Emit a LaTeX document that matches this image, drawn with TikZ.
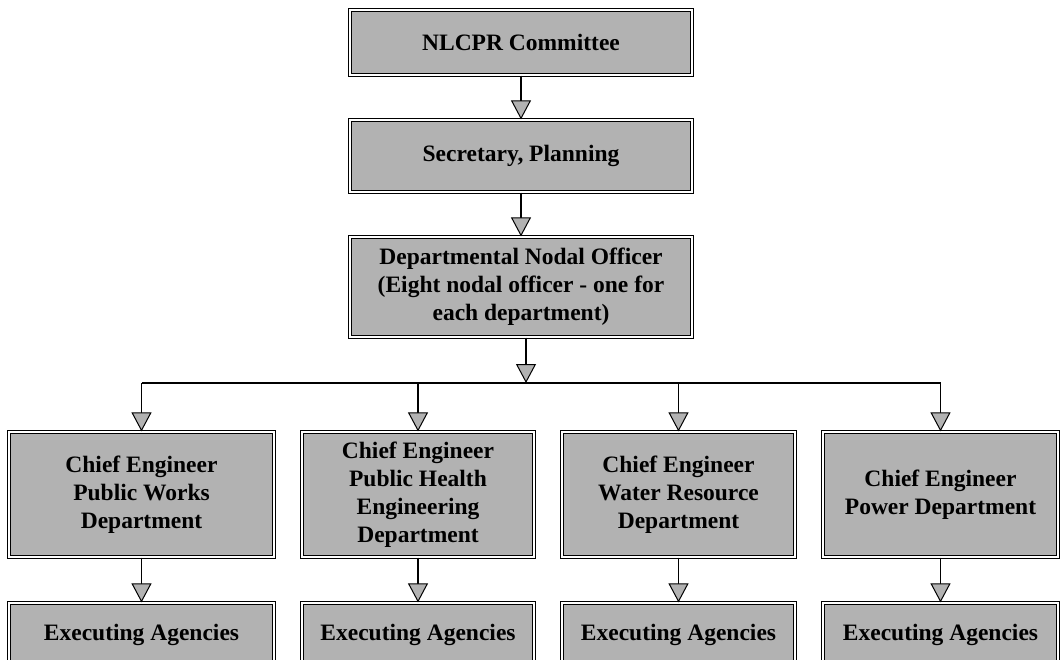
\documentclass[tikz,border=0pt]{standalone}
\usepackage{fontspec}
\setmainfont{Liberation Serif}
\usetikzlibrary{arrows.meta}

\begin{document}
\begin{tikzpicture}[x=1pt,y=-1pt,
    box/.style={draw=black, line width=1.2pt, double=white, double distance=1.3pt,
      fill=black!30, align=center, inner sep=2pt,
      font=\fontsize{23.5}{28}\selectfont\bfseries},
    flow/.style={line width=1.6pt,
      -{Triangle[fill=black!30, length=19pt, width=20pt, line width=1pt]}}]
  \useasboundingbox (0,0) rectangle (1060,659);
  % top of the chain
  \node[box, minimum width=342pt, minimum height=65pt] (nlcpr) at (521,42.5) {NLCPR Committee};
  \node[box, minimum width=342pt, minimum height=72pt] (secy) at (521,156) {Secretary, Planning};
  \node[box, minimum width=342pt, minimum height=100pt] (dno) at (521,287)
    {Departmental Nodal Officer\\(Eight nodal officer - one for\\each department)};
  % chief engineers
  \node[box, minimum width=265pt, minimum height=125pt] (ce1) at (141.5,494.5)
    {Chief Engineer\\Public Works\\Department};
  \node[box, minimum width=232pt, minimum height=125pt] (ce2) at (418,494.5)
    {Chief Engineer\\Public Health\\Engineering\\Department};
  \node[box, minimum width=233pt, minimum height=125pt] (ce3) at (678.5,494.5)
    {Chief Engineer\\Water Resource\\Department};
  \node[box, minimum width=235pt, minimum height=125pt] (ce4) at (940.5,494.5)
    {Chief Engineer\\Power Department};
  % executing agencies
  \node[box, minimum width=265pt, minimum height=76pt, text depth=18pt] (ea1) at (141.5,641) {Executing Agencies};
  \node[box, minimum width=232pt, minimum height=76pt, text depth=18pt] (ea2) at (418,641) {Executing Agencies};
  \node[box, minimum width=233pt, minimum height=76pt, text depth=18pt] (ea3) at (678.5,641) {Executing Agencies};
  \node[box, minimum width=235pt, minimum height=76pt, text depth=18pt] (ea4) at (940.5,641) {Executing Agencies};
  % bus line
  \coordinate (bus) at (526,383);
  \coordinate (b1) at (ce1 |- bus);
  \coordinate (b2) at (ce2 |- bus);
  \coordinate (b3) at (ce3 |- bus);
  \coordinate (b4) at (ce4 |- bus);
  \begin{scope}[flow]
    \draw (nlcpr) -- (secy);
    \draw (secy) -- (dno);
    \draw (dno.south -| bus) -- (bus);
    \draw (b1) -- (ce1);
    \draw (b2) -- (ce2);
    \draw (b3) -- (ce3);
    \draw (b4) -- (ce4);
    \draw (ce1) -- (ea1);
    \draw (ce2) -- (ea2);
    \draw (ce3) -- (ea3);
    \draw (ce4) -- (ea4);
  \end{scope}
  \draw[line width=1.6pt] (b1) -- (b4);
\end{tikzpicture}
\end{document}
